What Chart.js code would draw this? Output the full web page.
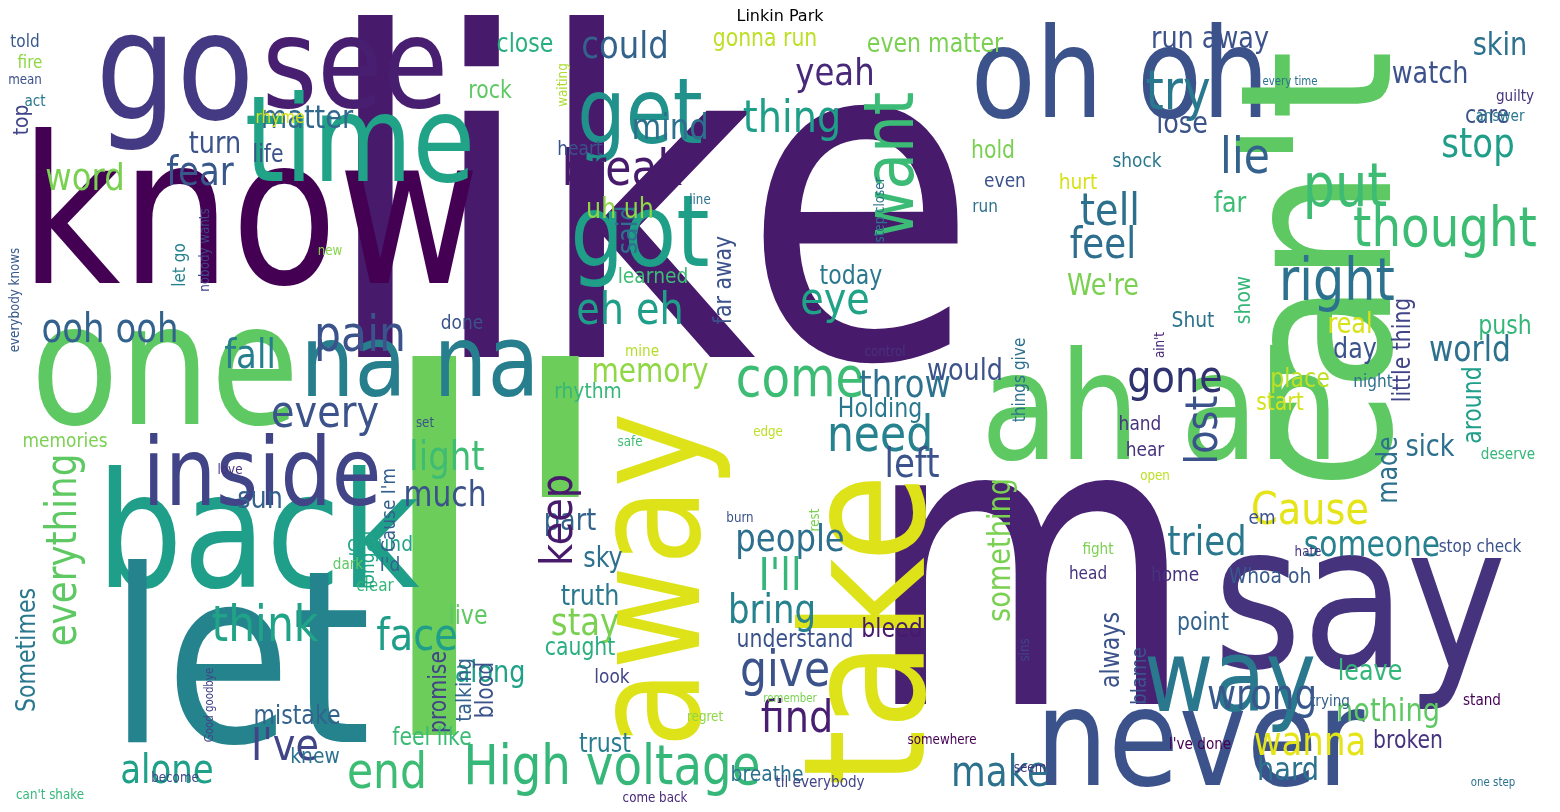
<!DOCTYPE html>
<html>
<head>
<meta charset="utf-8">
<script src="https://cdn.jsdelivr.net/npm/chart.js@4"></script>
<style>
  html, body { margin: 0; padding: 0; background: #fff; }
  canvas { display: block; }
</style>
</head>
<body>
<canvas id="nuvem" width="1560" height="812"></canvas>
<script>
// word, centre x, centre y (in image pixels), font size, colour, vertical?
const palavras = ["like","I'","m","know","go","see","time","one","back","let","inside","na na","get","got","want","away","take","oh oh","can't","ah ah","say","never","way","put","thought","right","try","lie","tell","feel","lost","gone","Cause","tried","someone","wanna","hard","wrong","nothing","leave","broken","make","High voltage","end","I've","alone","everything","Sometimes","memories","word","fear","turn","matter","top","close","could","yeah","thing","mind","break","eh eh","eye","pain","fall","ooh ooh","every","think","face","light","much","sun","part","sky","people","I'll","bring","give","find","come","need","left","throw","Holding","keep","memory","rhythm","stay","truth","caught","understand","bleed","along","promise","talking","blood","mistake","knew","feel like","trust","breathe","look","live","ground","I'd","clear","Cause I'm","long til","dark","let go","nobody wants","everybody knows","new","learned","today","said","uh uh","far away","done","mine","We're","far","show","Shut","real","day","world","place","start","little thing","night","around","push","stop","care","skin","watch","lose","run away","even matter","gonna run","rock","waiting","heart","life","rhyme","told","fire","mean","act","hold","shock","even","hurt","run","line","step closer","every time","guilty","answer","sick","made","em","hate","deserve","stop check","fight","hand","hear","open","home","Whoa oh","always","blame","something","point","sins","I've done","trying","stand","one step","seem","somewhere","remember","til everybody","come back","regret","can't shake","become","Good goodbye","burn","rest","love","safe","edge","set","control","ain't","things give","head","would"];
const posX = [650,495,1030,250,175,355,360,165,258,240,262,420,640,640,895,660,880,1120,1335,1160,1360,1200,1230,1345,1445,1337,1178,1245,1110,1103,1205,1175,1310,1207,1372,1310,1288,1262,1388,1370,1408,1000,612,387,285,167,65,28,65,85,200,215,307,22,525,625,835,792,670,622,630,835,360,250,110,325,265,417,447,445,260,570,603,790,780,772,785,797,800,880,912,905,880,560,650,588,585,590,580,795,892,490,440,465,487,297,315,432,605,767,612,468,380,390,375,390,369,348,180,205,15,330,653,851,630,620,725,462,642,1103,1230,1244,1193,1350,1355,1470,1300,1280,1404,1373,1474,1505,1478,1487,1500,1430,1182,1210,935,765,490,563,580,268,280,25,30,25,35,993,1137,1005,1078,985,700,880,1290,1515,1500,1430,1390,1262,1308,1508,1480,1098,1140,1145,1155,1175,1270,1112,1140,1002,1203,1025,1200,1330,1482,1493,1030,942,790,820,655,705,50,175,210,740,815,230,630,768,425,885,1160,1020,1088,965];
const posY = [240,600,600,230,80,75,150,380,545,680,480,370,120,240,165,580,630,85,270,420,615,750,685,190,232,285,95,160,213,247,430,380,512,545,547,745,772,698,713,673,742,775,770,775,748,773,550,650,442,180,175,145,120,120,45,48,75,120,130,172,312,302,338,358,332,415,628,638,460,497,500,522,560,541,578,613,673,720,382,438,467,387,410,520,373,392,625,598,649,641,630,674,692,690,690,717,757,739,745,775,678,617,545,566,586,510,560,565,265,250,300,251,277,277,230,211,280,324,352,287,205,300,321,326,351,352,380,404,350,382,405,327,147,117,47,75,125,40,45,40,92,85,150,156,118,42,63,80,102,152,162,182,183,207,200,210,82,97,117,448,470,519,552,455,547,550,425,451,476,576,577,650,676,550,624,650,745,702,701,783,768,740,699,783,798,717,795,778,705,518,520,470,442,432,423,352,345,380,574,372];
const tamanhos = [450,520,400,205,150,125,120,170,160,240,95,100,90,100,70,150,170,125,210,150,200,135,100,60,55,58,55,50,45,42,45,45,45,40,35,40,32,42,32,28,24,42,55,50,45,40,42,26,20,38,40,30,32,22,26,38,38,45,36,50,45,45,50,40,40,45,50,45,40,35,30,30,28,38,45,40,50,45,55,50,40,38,26,45,33,22,38,28,24,24,26,30,24,22,24,26,22,24,26,22,20,26,22,20,18,20,20,16,18,14,14,14,22,26,28,28,24,20,16,30,28,22,22,28,28,35,26,24,24,18,26,26,40,24,32,30,30,30,26,24,24,14,20,24,18,18,18,14,16,24,20,20,22,18,14,14,12,16,16,30,28,20,14,16,18,16,20,20,14,20,22,26,22,32,24,14,16,16,16,12,14,14,12,16,14,14,14,14,12,14,14,14,14,14,14,14,14,18,18,30];
const cores = ["#481a6c","#6ccd5a","#482173","#440154","#443983","#481f70","#20a386","#5ec962","#1f9e89","#25838e","#414487","#277f8e","#21918c","#1f9f88","#3bbb75","#dde318","#dde318","#3b528b","#5ec962","#5ec962","#46337e","#3b528b","#2a788e","#3fbc73","#3dbc74","#2c728e","#2a788e","#33638d","#2d708e","#2e6e8e","#3b528b","#30336f","#e5e419","#2a788e","#26828e","#e5e419","#2c728e","#38588c","#5ec962","#34b679","#46337e","#2c728e","#35b779","#3dbc74","#414487","#1fa088","#5ec962","#2a788e","#7ad151","#7ad151","#38588c","#3b528b","#31688e","#404588","#29af7f","#33638d","#482878","#1f9e89","#2d708e","#481a6c","#1f9e89","#20a386","#3b528b","#277f8e","#33638d","#3b528b","#20a386","#1f9e89","#3fbc73","#3b528b","#33638d","#33638d","#2d708e","#2d708e","#35b779","#26828e","#3b528b","#481f70","#3dbc74","#26828e","#3b528b","#2c728e","#2a788e","#481a6c","#8fd744","#35b779","#7ad151","#2a788e","#29af7f","#3b528b","#481a6c","#1fa088","#414487","#34618d","#3b528b","#33638d","#2c728e","#3bbb75","#287c8e","#2c728e","#404688","#5ec962","#20a386","#33638d","#34b679","#355f8d","#20a386","#5ec962","#26828e","#414487","#38588c","#86d549","#3dbc74","#2a788e","#2c728e","#8fd744","#3b528b","#3b528b","#b5de2b","#7ad151","#3dbc74","#34b679","#2c728e","#d8e219","#3b528b","#2c728e","#bddf26","#d2e21b","#414487","#2d708e","#1f9e89","#34b679","#1f9e89","#3b528b","#2c728e","#3b528b","#3b528b","#3b528b","#7ad151","#bddf26","#5ec962","#addc30","#3b528b","#3b528b","#d8e219","#38588c","#8fd744","#3b528b","#2a788e","#7ad151","#2a788e","#3b528b","#d8e219","#2c728e","#2c728e","#2c728e","#2c728e","#46337e","#2a788e","#2d708e","#2d708e","#3b528b","#46337e","#35b779","#3b528b","#7ad151","#46337e","#46337e","#bddf26","#46337e","#38588c","#3b528b","#3b528b","#7ad151","#33638d","#414487","#440154","#34618d","#440154","#2c728e","#46337e","#440154","#7ad151","#414487","#482878","#8fd744","#35b779","#404688","#414487","#3b528b","#7ad151","#46337e","#3fbc73","#bddf26","#3b528b","#46337e","#482878","#2d708e","#46337e","#3b528b"];
const verticais = ["want","away","take","can't","lost","everything","Sometimes","top","keep","promise","talking","blood","Cause I'm","long til","let go","nobody wants","everybody knows","said","far away","show","little thing","around","waiting","step closer","made","always","blame","something","sins","Good goodbye","rest","ain't","things give"];

// the reference font runs narrower than DejaVu Sans
const aperto = 0.85;

const pintarPalavras = {
  id: 'pintarPalavras',
  afterDatasetsDraw(chart) {
    const ctx = chart.ctx;
    const sx = chart.scales.x, sy = chart.scales.y;
    ctx.save();
    ctx.textAlign = 'center';
    ctx.textBaseline = 'middle';
    palavras.forEach((p, i) => {
      ctx.save();
      ctx.translate(sx.getPixelForValue(posX[i]), sy.getPixelForValue(posY[i]));
      if (verticais.includes(p)) ctx.rotate(-Math.PI / 2);
      ctx.scale(aperto, 1);
      ctx.font = tamanhos[i] + 'px "DejaVu Sans"';
      ctx.fillStyle = cores[i];
      ctx.fillText(p, 0, 0);
      ctx.restore();
    });
    ctx.font = '16px "DejaVu Sans"';
    ctx.fillStyle = '#000';
    ctx.fillText('Linkin Park', 780, 17);
    ctx.restore();
  }
};

new Chart(document.getElementById('nuvem'), {
  type: 'scatter',
  data: {
    datasets: [{
      data: palavras.map((p, i) => ({ x: posX[i], y: posY[i] })),
      pointRadius: 0
    }]
  },
  options: {
    responsive: false,
    animation: false,
    devicePixelRatio: 1,
    layout: { padding: 0 },
    plugins: { legend: { display: false }, tooltip: { enabled: false } },
    scales: {
      x: { type: 'linear', min: 0, max: 1560, display: false },
      y: { type: 'linear', min: 0, max: 812, reverse: true, display: false }
    }
  },
  plugins: [pintarPalavras]
});
</script>
</body>
</html>
